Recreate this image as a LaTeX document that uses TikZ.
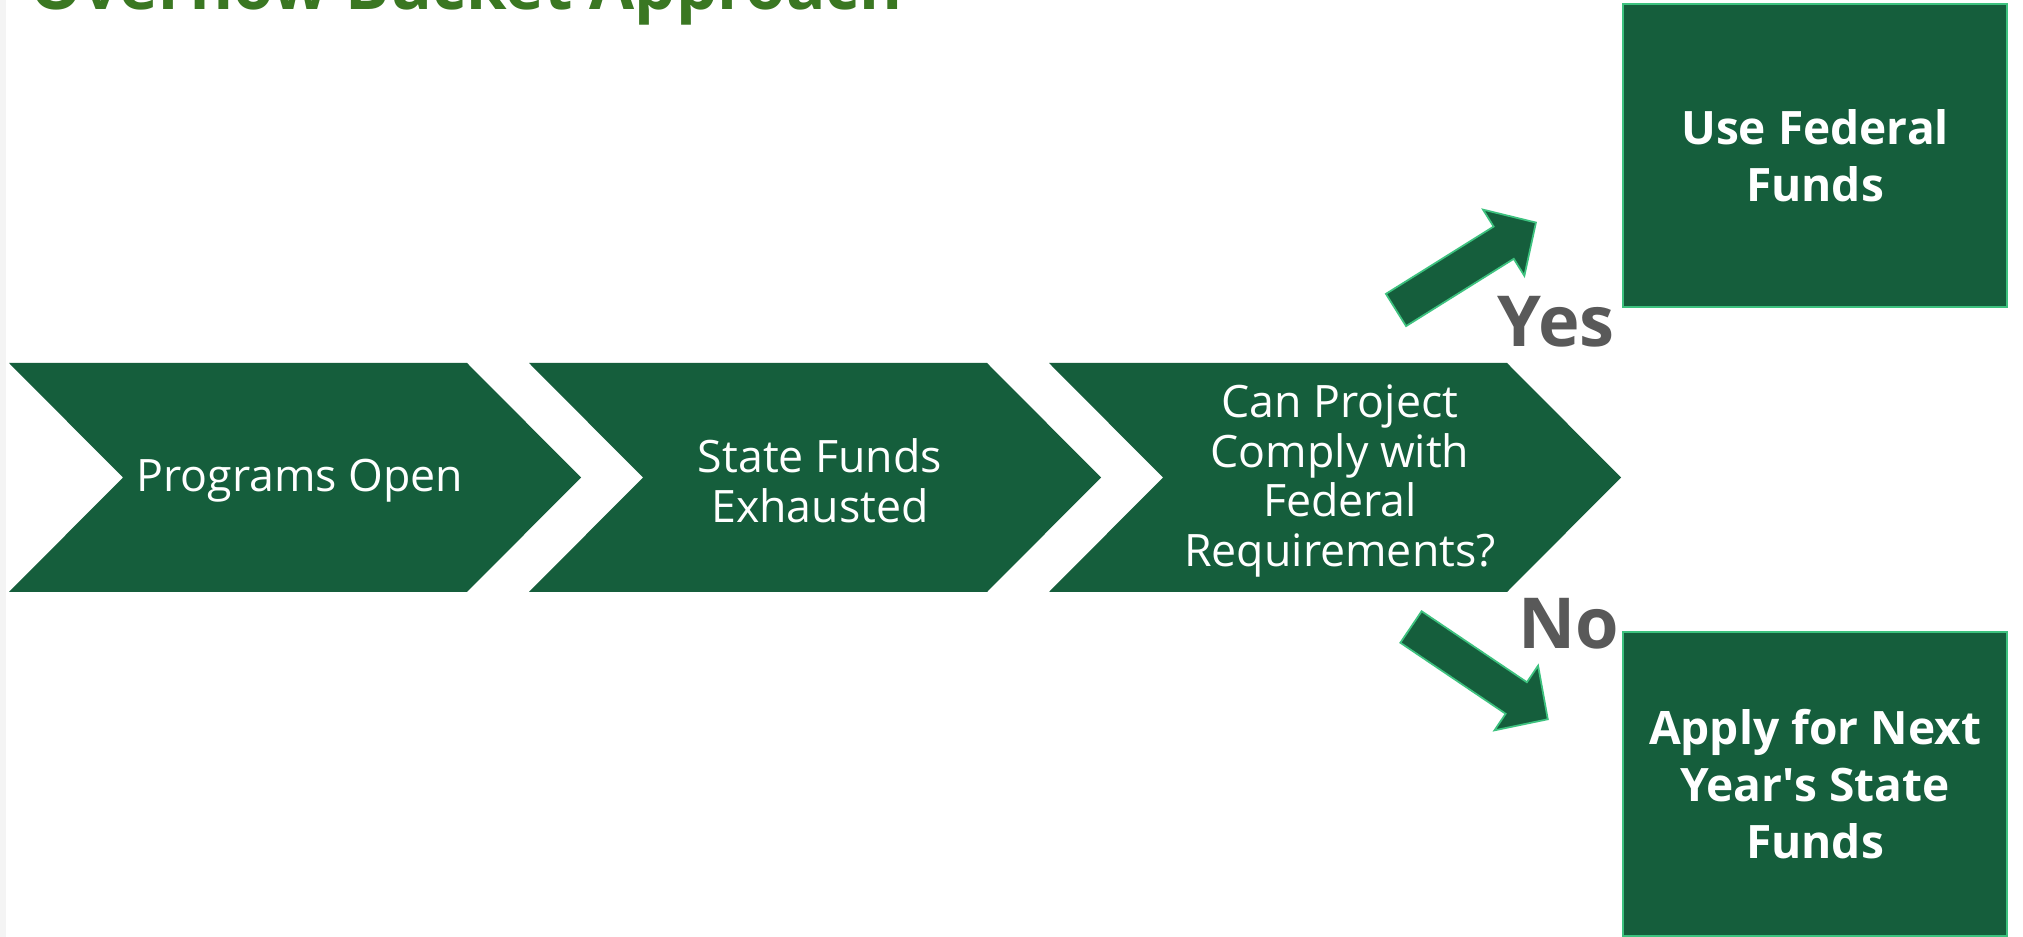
\documentclass[tikz,border=0pt]{standalone}
\usepackage{fontspec}
\setmainfont{Open Sans}
\definecolor{chevgreen}{HTML}{155E3C}
\definecolor{edgegreen}{HTML}{3DC27F}
\definecolor{titlegreen}{HTML}{3A7722}
\definecolor{answergray}{HTML}{595959}
\definecolor{stripgray}{HTML}{F4F4F4}

\begin{document}
\begin{tikzpicture}[x=0.01cm, y=-0.01cm,
    chevtext/.style={text=white, align=center, font=\fontsize{12.7}{14.2}\selectfont},
    outcome/.style={fill=chevgreen, draw=edgegreen, line width=0.6pt, minimum width=3.84cm, minimum height=3.03cm, text=white, align=center, font=\bfseries\fontsize{13.1}{16.2}\selectfont},
    bigarrow/.style={fill=chevgreen, draw=edgegreen, line width=0.5pt},
    answer/.style={text=answergray, anchor=base, inner sep=0pt, font=\bfseries\fontsize{20}{24}\selectfont}]
    %Frame
    \fill[white] (0,0) rectangle (2023,937);
    \useasboundingbox (0,0) rectangle (2023,937);
    \fill[stripgray] (0,0) rectangle (6,937);
    \node[anchor=base west, inner sep=0pt, text=titlegreen, font=\bfseries\fontsize{18.6}{22}\selectfont] (title) at (30,10) {Overflow Bucket Approach};

    %Chevrons
    \foreach \x/\name/\label in {9/open/{Programs Open}, 529/exhausted/{State Funds\\Exhausted}, 1049/comply/{Can Project\\Comply with\\Federal\\Requirements?}} {
        \fill[chevgreen] (\x,363) -- (\x+458,363) -- (\x+572,477.5) -- (\x+458,592) -- (\x,592) -- (\x+114,477.5) -- cycle;
        \node[chevtext] (\name) at (\x+291,481) {\label};
    }

    %Outcomes
    \node[outcome] (federal) at (1815,155.5) {Use Federal\\Funds};
    \node[outcome] (nextyear) at (1815,784) {Apply for Next\\Year\textquotesingle s State\\Funds};

    %Arrows
    \coordinate (yestail) at (1396,310);
    \coordinate (notail) at (1411,627);
    \draw[bigarrow, shift={(yestail)}, rotate=32] (0,-19) -- (127,-19) -- (127,-39) -- (165,0) -- (127,39) -- (127,19) -- (0,19) -- cycle;
    \draw[bigarrow, shift={(notail)}, rotate=-34] (0,-19) -- (127,-19) -- (127,-39) -- (165,0) -- (127,39) -- (127,19) -- (0,19) -- cycle;
    \node[answer] (yes) at (1556,347) {Yes};
    \node[answer] (no) at (1569,649) {No};
\end{tikzpicture}
\end{document}
